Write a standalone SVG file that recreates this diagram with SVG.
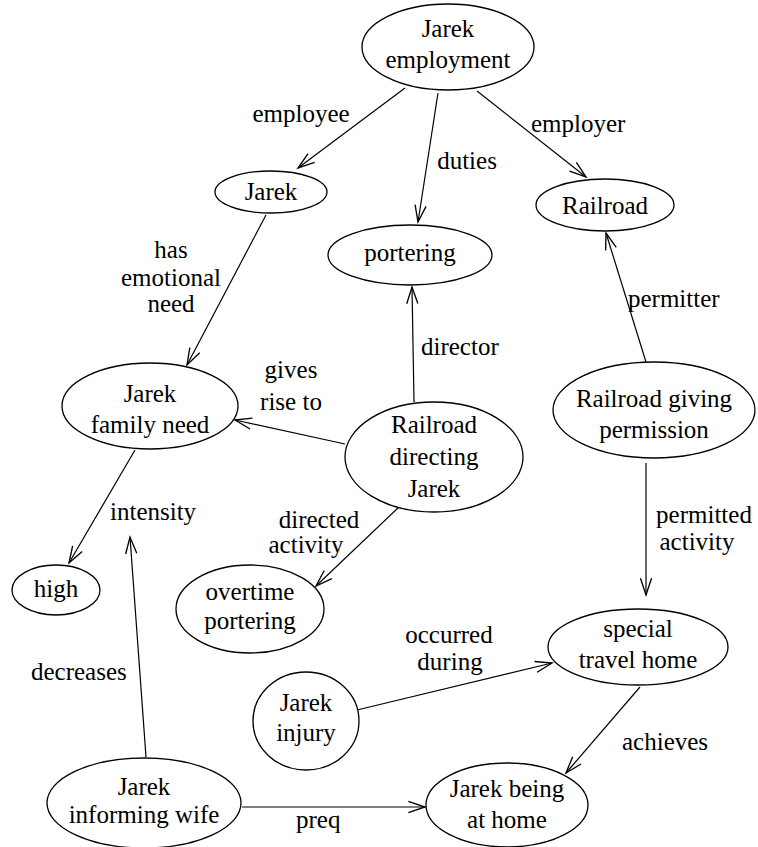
<svg xmlns="http://www.w3.org/2000/svg" width="758" height="847" viewBox="0 0 758 847">
<style>
.n ellipse{fill:#fff;stroke:#000;stroke-width:1.3}
text{font-family:"Liberation Serif","Times New Roman",serif;font-size:25px;fill:#000}
.c{text-anchor:middle}
.e line{stroke:#000;stroke-width:1.2;marker-end:url(#a)}
</style>
<defs>
<marker id="a" markerUnits="userSpaceOnUse" markerWidth="20" markerHeight="20" refX="0" refY="0" viewBox="-16 -8 18 16" orient="auto" overflow="visible">
<path d="M-15,-5 L0,0 L-15,5" fill="none" stroke="#000" stroke-width="1.2"/>
</marker>
</defs>
<rect width="758" height="847" fill="#fff"/>
<g id="edges" class="e">
<line x1="405" y1="88" x2="298" y2="168"/>
<line x1="438" y1="93" x2="418" y2="222"/>
<line x1="477" y1="91" x2="586" y2="177"/>
<line x1="266" y1="215" x2="187" y2="365"/>
<line x1="414" y1="402" x2="412" y2="287"/>
<line x1="646" y1="362" x2="606" y2="233"/>
<line x1="345" y1="444" x2="235" y2="420"/>
<line x1="135" y1="450" x2="69" y2="563"/>
<line x1="399" y1="507" x2="316" y2="586"/>
<line x1="646" y1="463" x2="646" y2="595"/>
<line x1="146" y1="757" x2="130" y2="537"/>
<line x1="357" y1="710" x2="552" y2="663"/>
<line x1="640" y1="687" x2="566" y2="773"/>
<line x1="242" y1="807" x2="425" y2="807"/>
</g>
<g id="labels">
<text class="c" x="301" y="122">employee</text>
<text class="c" x="467" y="169">duties</text>
<text x="531" y="132">employer</text>
<text class="c" x="171" y="258">has</text>
<text class="c" x="171" y="286">emotional</text>
<text class="c" x="171" y="312">need</text>
<text x="421" y="355">director</text>
<text x="628" y="307">permitter</text>
<text class="c" x="291" y="378">gives</text>
<text class="c" x="291" y="410">rise to</text>
<text x="110" y="520">intensity</text>
<text class="c" x="319" y="528">directed</text>
<text class="c" x="306" y="553">activity</text>
<text class="c" x="704" y="523">permitted</text>
<text class="c" x="697" y="550">activity</text>
<text x="31" y="680">decreases</text>
<text class="c" x="449" y="643">occurred</text>
<text class="c" x="450" y="670">during</text>
<text x="622" y="750">achieves</text>
<text x="296" y="828">preq</text>
</g>
<g id="n-employment" class="n"><ellipse cx="448" cy="47" rx="86" ry="43"/><text class="c" x="448" y="37">Jarek</text><text class="c" x="448" y="68">employment</text></g>
<g id="n-jarek" class="n"><ellipse cx="271" cy="192" rx="56" ry="21"/><text class="c" x="271" y="200">Jarek</text></g>
<g id="n-portering" class="n"><ellipse cx="410" cy="255" rx="82" ry="30"/><text class="c" x="410" y="261">portering</text></g>
<g id="n-railroad" class="n"><ellipse cx="605" cy="205" rx="69" ry="26"/><text class="c" x="605" y="214">Railroad</text></g>
<g id="n-familyneed" class="n"><ellipse cx="150" cy="406" rx="88" ry="43"/><text class="c" x="150" y="402">Jarek</text><text class="c" x="150" y="433">family need</text></g>
<g id="n-directing" class="n"><ellipse cx="434" cy="457" rx="89" ry="55"/><text class="c" x="434" y="433">Railroad</text><text class="c" x="434" y="465">directing</text><text class="c" x="434" y="497">Jarek</text></g>
<g id="n-giving" class="n"><ellipse cx="654" cy="410" rx="101" ry="48"/><text class="c" x="654" y="407">Railroad giving</text><text class="c" x="654" y="438">permission</text></g>
<g id="n-high" class="n"><ellipse cx="56" cy="590" rx="44" ry="25"/><text class="c" x="56" y="597">high</text></g>
<g id="n-overtime" class="n"><ellipse cx="250" cy="609" rx="74" ry="44"/><text class="c" x="250" y="600">overtime</text><text class="c" x="250" y="629">portering</text></g>
<g id="n-special" class="n"><ellipse cx="638" cy="647" rx="90" ry="38"/><text class="c" x="638" y="637">special</text><text class="c" x="638" y="668">travel home</text></g>
<g id="n-injury" class="n"><ellipse cx="306" cy="721" rx="53" ry="49"/><text class="c" x="306" y="711">Jarek</text><text class="c" x="306" y="741">injury</text></g>
<g id="n-informing" class="n"><ellipse cx="144" cy="803" rx="97" ry="45"/><text class="c" x="144" y="795">Jarek</text><text class="c" x="144" y="823">informing wife</text></g>
<g id="n-athome" class="n"><ellipse cx="507" cy="805" rx="81" ry="42"/><text class="c" x="507" y="797">Jarek being</text><text class="c" x="507" y="828">at home</text></g>
</svg>
